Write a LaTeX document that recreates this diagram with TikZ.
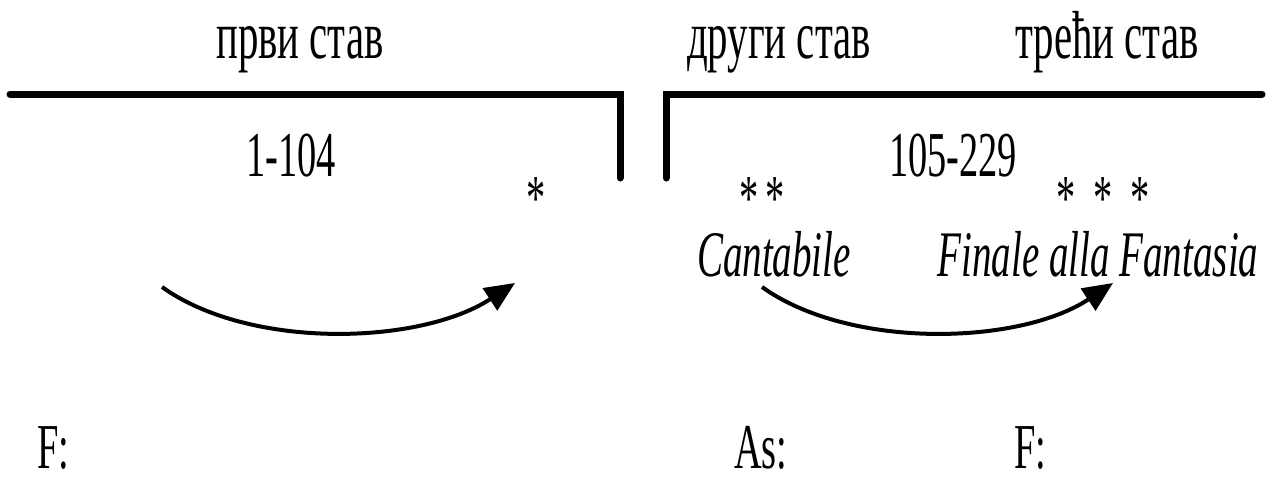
\documentclass[tikz,border=0pt]{standalone}
\usepackage{fontspec}
\setmainfont[FakeStretch=0.6]{Liberation Serif}
\usetikzlibrary{arrows.meta}
\begin{document}
\begin{tikzpicture}[x=1pt,y=-1pt,
  lbl/.style={inner sep=0pt, font=\fontsize{64}{70}\selectfont},
  head/.style={inner sep=0pt, font=\fontsize{68}{74}\selectfont},
  itl/.style={inner sep=0pt, font=\fontsize{65}{70}\selectfont\itshape},
  bar/.style={line width=7pt, line cap=round, line join=miter},
  flow/.style={line width=4pt, -{Triangle[length=30pt,width=26pt]}}]
  \useasboundingbox (0,0) rectangle (1270,477);

  % movement headings
  \node[head, anchor=base] (m1) at (300,58) {први став};
  \node[head, anchor=base] (m2) at (779,58) {други став};
  \node[head, anchor=base] (m3) at (1107,58) {трећи став};

  % section brackets
  \draw[bar] (10,94) -- (620,94) -- (620,178);
  \draw[bar] (666,178) -- (666,94) -- (1262,94);

  % bar ranges
  \node[lbl, anchor=base] (r1) at (291,176) {1-104};
  \node[lbl, anchor=base] (r2) at (953,176) {105-229};

  % asterisks
  \node[lbl, anchor=base] (s1) at (536,219) {*};
  \node[lbl, anchor=base] (s2) at (762,219) {*\hspace{7pt}*};
  \node[lbl, anchor=base] (s3) at (1103,219) {*\hspace{18pt}*\hspace{18pt}*};

  % tempo markings
  \node[itl, anchor=base] (t2) at (774,276) {Cantabile};
  \node[itl, anchor=base] (t3) at (1098,276) {Finale alla Fantasia};

  % arrows
  \coordinate (a1s) at (162,287);
  \coordinate (a1e) at (515,283);
  \coordinate (a2s) at (762,287);
  \coordinate (a2e) at (1113,283);
  \draw[flow] (a1s) .. controls (250,350) and (420,345) .. (a1e);
  \draw[flow] (a2s) .. controls (850,350) and (1020,345) .. (a2e);

  % keys
  \node[lbl, anchor=base west] (k1) at (37,468) {F:};
  \node[lbl, anchor=base west] (k2) at (734,468) {As:};
  \node[lbl, anchor=base west] (k3) at (1014,468) {F:};
\end{tikzpicture}
\end{document}
